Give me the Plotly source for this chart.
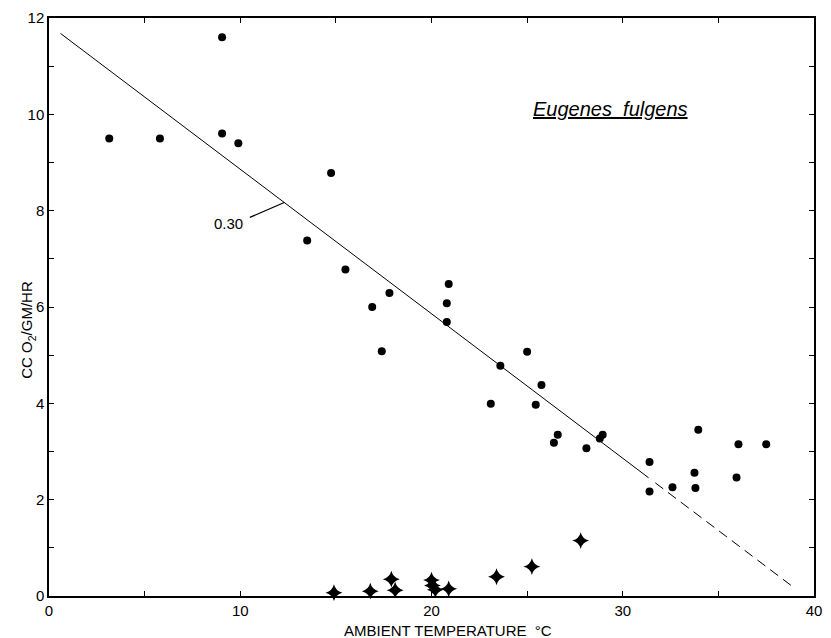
import plotly.graph_objects as go

# Oxygen consumption of Eugenes fulgens against ambient temperature
# Resting birds (filled circles)
temp_rest = [3.15, 5.8, 9.05, 9.05, 9.9, 13.5, 14.75, 15.5, 16.9, 17.4, 17.8,
             20.8, 20.8, 20.9, 23.1, 23.6, 25.0, 25.45, 25.75, 26.4, 26.6,
             28.1, 28.8, 28.95, 31.4, 31.4, 32.6, 33.75, 33.8, 33.95,
             35.95, 36.05, 37.5]
o2_rest = [9.5, 9.5, 11.6, 9.6, 9.4, 7.38, 8.78, 6.78, 6.0, 5.08, 6.29,
           5.69, 6.08, 6.48, 3.99, 4.78, 5.07, 3.97, 4.38, 3.18, 3.35,
           3.07, 3.27, 3.35, 2.78, 2.17, 2.26, 2.56, 2.24, 3.45,
           2.46, 3.15, 3.15]

# Torpid birds (four-pointed stars)
temp_torpid = [14.9, 16.8, 17.9, 18.1, 20.0, 20.05, 20.2, 20.9, 23.4, 25.25, 27.8]
o2_torpid = [0.07, 0.10, 0.35, 0.12, 0.33, 0.22, 0.13, 0.15, 0.40, 0.61, 1.15]

# Regression line: slope -0.30 cc O2/gm/hr per degree
SLOPE = -0.30
INTERCEPT = 11.86
fit_solid_x = [0.6, 31.35]
fit_dashed_x = [31.7, 38.9]
label_x = 12.3

x_ticks = [0, 10, 20, 30, 40]
y_ticks = [0, 2, 4, 6, 8, 10, 12]

FONT = "Liberation Sans"


def fit(xs):
    return [INTERCEPT + SLOPE * x for x in xs]


fig = go.Figure()

fig.add_trace(go.Scatter(
    x=fit_solid_x, y=fit(fit_solid_x), mode="lines",
    line=dict(color="black", width=1), hoverinfo="skip", showlegend=False))
fig.add_trace(go.Scatter(
    x=fit_dashed_x, y=fit(fit_dashed_x), mode="lines",
    line=dict(color="black", width=1, dash="10px,6px"),
    hoverinfo="skip", showlegend=False))

fig.add_trace(go.Scatter(
    x=temp_rest, y=o2_rest, mode="markers",
    marker=dict(symbol="circle", size=8, color="black"),
    cliponaxis=False, showlegend=False))

# Star marker: a small disc with four short spikes
fig.add_trace(go.Scatter(
    x=temp_torpid, y=o2_torpid, mode="markers",
    marker=dict(symbol="star-diamond", size=12, color="black",
                line=dict(width=0)),
    cliponaxis=False, hoverinfo="skip", showlegend=False))
fig.add_trace(go.Scatter(
    x=temp_torpid, y=o2_torpid, mode="markers",
    marker=dict(symbol="circle", size=7, color="black"),
    cliponaxis=False, showlegend=False))

# Slope label with a leader to the fitted line
label_y = fit([label_x])[0]
fig.add_shape(
    type="line", xref="x", yref="y",
    x0=10.5, y0=label_y - 0.31, x1=label_x, y1=label_y,
    line=dict(color="black", width=1.2))
fig.add_annotation(
    x=9.36, y=label_y - 0.44, xref="x", yref="y",
    yanchor="middle", showarrow=False, text="0.30",
    font=dict(family=FONT, size=15, color="black"))

# Species name
fig.add_annotation(
    x=29.35, y=10.12, xref="x", yref="y", showarrow=False,
    text="<i><u>Eugenes  fulgens</u></i>",
    font=dict(family=FONT, size=20, color="black"))

# Axis titles
fig.add_annotation(
    x=0.521, y=-0.041, xref="paper", yref="paper", yanchor="top",
    showarrow=False, text="AMBIENT TEMPERATURE  °C",
    font=dict(family=FONT, size=15, color="black"))
fig.add_annotation(
    x=-0.043, y=0.46, xref="paper", yref="paper", textangle=-90,
    showarrow=False, text="CC O<sub>2</sub>/GM/HR",
    font=dict(family=FONT, size=15, color="black"))

axis_common = dict(
    showgrid=False, zeroline=False, showline=True, linecolor="black",
    linewidth=1.5, mirror="ticks", ticks="inside", ticklen=5,
    tickwidth=1.2, tickcolor="black",
    tickfont=dict(family=FONT, size=15, color="black"))

fig.update_xaxes(
    range=[0, 40], tickvals=x_ticks, ticktext=[str(v) for v in x_ticks],
    minor=dict(dtick=5, ticks="inside", ticklen=5, tickcolor="black",
               tickwidth=1.2),
    **axis_common)
fig.update_yaxes(
    range=[0, 12], tickvals=y_ticks, ticktext=[str(v) for v in y_ticks],
    minor=dict(dtick=1, ticks="inside", ticklen=5, tickcolor="black",
               tickwidth=1.2),
    **axis_common)

fig.update_layout(
    width=831, height=638,
    margin=dict(l=49, r=9, t=17, b=42),
    plot_bgcolor="white", paper_bgcolor="white",
    font=dict(family=FONT, color="black"))

fig.write_html("out.html")
